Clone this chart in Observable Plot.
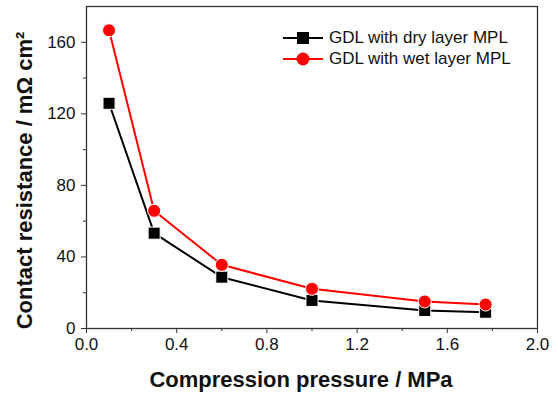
<!DOCTYPE html>
<html><head><meta charset="utf-8">
<script src="https://cdn.jsdelivr.net/npm/d3@7"></script>
<script src="https://cdn.jsdelivr.net/npm/@observablehq/plot@0.6"></script>
<style>
html,body{margin:0;padding:0;background:#fff;}
#wrap{position:relative;width:558px;height:397px;font-family:"Liberation Sans",Arial,sans-serif;}
#legend{position:absolute;left:283px;top:27px;font-size:17px;color:#111;}
.row{display:flex;align-items:center;height:21px;}
.row svg{margin-right:6px;}
</style></head>
<body><div id="wrap"><div id="legend"></div></div>
<script>
const pressure = [0.1, 0.3, 0.6, 1.0, 1.5, 1.77];
const dryLayer = [125.9, 53.3, 28.7, 15.7, 10.1, 9.1];
const wetLayer = [166.7, 65.8, 35.6, 22.2, 15.1, 13.4];
const seriesNames = ["GDL with dry layer MPL", "GDL with wet layer MPL"];
const xTicks = [0, 0.4, 0.8, 1.2, 1.6, 2.0];
const xMinor = [0.2, 0.6, 1.0, 1.4, 1.8];
const yTicks = [0, 40, 80, 120, 160];
const yMinor = [20, 60, 100, 140];

const dry = pressure.map((p, i) => ({p, v: dryLayer[i]}));
const wet = pressure.map((p, i) => ({p, v: wetLayer[i]}));

const plot = Plot.plot({
  width: 558, height: 397,
  marginLeft: 86, marginRight: 21, marginTop: 6, marginBottom: 69,
  style: {fontFamily: '"Liberation Sans", Arial, sans-serif', fontSize: "17px", color: "#111", background: "#fff", overflow: "visible"},
  x: {domain: [0, 2]},
  y: {domain: [0, 180]},
  marks: [
    Plot.frame({stroke: "#333", strokeWidth: 1.3}),
    Plot.axisX(xTicks, {tickSize: 5, tickFormat: d3.format(".1f"), tickPadding: 4, fontSize: 17, stroke: "#333", label: null}),
    Plot.axisX(xMinor, {tickSize: 3, text: null, stroke: "#333", label: null}),
    Plot.axisY(yTicks, {tickSize: 5, tickFormat: d3.format("d"), tickPadding: 6, fontSize: 17, stroke: "#333", label: null}),
    Plot.axisY(yMinor, {tickSize: 3, text: null, stroke: "#333", label: null}),
    Plot.line(dry, {x: "p", y: "v", stroke: "#000", strokeWidth: 2}),
    Plot.line(wet, {x: "p", y: "v", stroke: "#ff0000", strokeWidth: 2}),
    Plot.dot(dry, {x: "p", y: "v", symbol: "square", r: 6.8, fill: "#000", stroke: "#fff", strokeWidth: 1}),
    Plot.dot(wet, {x: "p", y: "v", symbol: "circle", r: 6.5, fill: "#ff0000", stroke: "#fff", strokeWidth: 1}),
    Plot.text(["Compression pressure / MPa"], {frameAnchor: "bottom", dy: 51, dx: -11, fontSize: 22, fontWeight: "bold", lineAnchor: "middle", textAnchor: "middle"}),
    Plot.text(["Contact resistance / mΩ cm²"], {frameAnchor: "left", dx: -62, dy: 13, rotate: -90, fontSize: 22, fontWeight: "bold", textAnchor: "middle", lineAnchor: "middle"})
  ]
});
document.getElementById("wrap").prepend(plot);

const legend = document.getElementById("legend");
const swatch = [
  `<svg width="40" height="14"><line x1="0" y1="7" x2="40" y2="7" stroke="#000" stroke-width="2"/><rect x="14" y="1" width="12" height="12" fill="#000"/></svg>`,
  `<svg width="40" height="14"><line x1="0" y1="7" x2="40" y2="7" stroke="#ff0000" stroke-width="2"/><circle cx="20" cy="7" r="6.5" fill="#ff0000"/></svg>`
];
seriesNames.forEach((n, i) => {
  const row = document.createElement("div");
  row.className = "row";
  row.innerHTML = swatch[i] + `<span>${n}</span>`;
  legend.appendChild(row);
});
</script></body></html>
